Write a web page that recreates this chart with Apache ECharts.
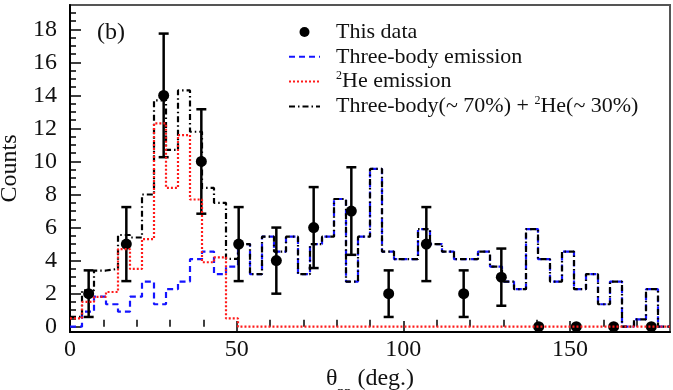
<!DOCTYPE html>
<html>
<head>
<meta charset="utf-8">
<script src="https://cdn.jsdelivr.net/npm/echarts@6/dist/echarts.min.js"></script>
<style>
  html, body { margin: 0; padding: 0; background: #fff; }
  #chart { width: 673px; height: 390px; }
</style>
</head>
<body>
<div id="chart"></div>
<script>
// histogram bins: 50 bins of 3.6 deg between 0 and 180
const binWidth = 3.6;
const threeBody = [0, 0.91, 1.82, 1.36, 0.91, 1.82, 2.73, 1.36, 2.27, 2.73,
  4.09, 4.55, 3.18, 3.64, 5.0, 3.18, 5.45, 4.55, 5.45, 3.18,
  5.0, 5.45, 7.73, 2.73, 5.45, 9.55, 4.55, 4.09, 4.09, 5.91,
  5.0, 4.55, 4.09, 4.09, 4.55, 3.64, 2.73, 2.27, 5.91, 4.09,
  2.73, 4.55, 2.27, 3.18, 1.36, 2.73, 0, 0.45, 2.27, 0];
const he2 = [0.5, 1.5, 1.8, 2.1, 4.7, 3.5, 5.3, 12.3, 8.4, 11.6,
  7.7, 3.9, 4.2, 0.5, 0, 0, 0, 0, 0, 0,
  0, 0, 0, 0, 0, 0, 0, 0, 0, 0,
  0, 0, 0, 0, 0, 0, 0, 0, 0, 0,
  0, 0, 0, 0, 0, 0, 0, 0, 0, 0];
const combined = [0.6, 2.2, 3.4, 3.5, 5.55, 5.4, 8.0, 13.7, 10.7, 14.3,
  11.8, 8.4, 7.5, 4.1, 5.0, 3.18, 5.45, 4.55, 5.45, 3.18,
  5.0, 5.45, 7.73, 2.73, 5.45, 9.55, 4.55, 4.09, 4.09, 5.91,
  5.0, 4.55, 4.09, 4.09, 4.55, 3.64, 2.73, 2.27, 5.91, 4.09,
  2.73, 4.55, 2.27, 3.18, 1.36, 2.73, 0, 0.45, 2.27, 0];

// measured points
const dataAngle = [5.6, 16.9, 28.1, 39.4, 50.6, 61.9, 73.1, 84.4, 95.6, 106.9, 118.1, 129.4, 140.6, 151.9, 163.1, 174.4];
const dataCounts = [2, 5, 14, 10, 5, 4, 6, 7, 2, 5, 2, 3, 0, 0, 0, 0];
const dataErr = [1.41, 2.24, 3.74, 3.16, 2.24, 2.0, 2.45, 2.65, 1.41, 2.24, 1.41, 1.73, 0, 0, 0, 0];

const xTicks = [0, 50, 100, 150];
const yTicks = [0, 2, 4, 6, 8, 10, 12, 14, 16, 18];

const xMinor = [];
for (let v = 10; v < 180; v += 10) if (v % 50) xMinor.push(v);
const yMinor = [];
for (let v = 0.5; v < 19.5; v += 0.5) if (v % 2) yMinor.push(v);

const FONT = "Liberation Serif";

function steps(vals) {
  const pts = vals.map((v, i) => [+(i * binWidth).toFixed(2), v]);
  pts.push([180, vals[vals.length - 1]]);
  return pts;
}

const chart = echarts.init(document.getElementById("chart"));

const baseX = {
  type: "value", min: 0, max: 180, position: "bottom",
  splitLine: { show: false },
};
const baseY = {
  type: "value", min: -0.32, max: 19.47, position: "left",
  splitLine: { show: false },
};
const noDot = { opacity: 0 };

chart.setOption({
  animation: false,
  grid: {
    left: 70, right: 3, top: 5, bottom: 58,
    show: true, borderColor: "#555", borderWidth: 2,
    outerBoundsMode: "none",
  },
  legend: {
    data: [
      { name: "This data", itemStyle: { color: "#000", opacity: 1 } },
      { name: "Three-body emission", itemStyle: noDot },
      { name: "He emission", itemStyle: noDot },
      { name: "Three-body(~ 70%) + He(~ 30%)", itemStyle: noDot },
    ],
    orient: "vertical",
    left: 283, top: 15,
    itemWidth: 31, itemHeight: 10, itemGap: 0.8,
    textStyle: {
      fontFamily: FONT, fontSize: 22, color: "#111", lineHeight: 24,
      padding: [0, 0, 0, 11],
      rich: { sup: { fontFamily: FONT, fontSize: 12, verticalAlign: "top", lineHeight: 24 } },
    },
    formatter: (name) => name.replace(/He/g, "{sup|2}He"),
  },
  xAxis: [
    Object.assign({}, baseX, {
      axisLine: { show: true, onZero: false, lineStyle: { color: "#000", width: 2 } },
      axisTick: { show: true, inside: true, length: 11, customValues: xTicks, lineStyle: { color: "#000", width: 1.5 } },
      axisLabel: { customValues: xTicks, fontFamily: FONT, fontSize: 24, color: "#111", margin: 6 },
      name: "θ{sub|pp} (deg.)",
      nameLocation: "middle", nameGap: 35,
      nameTextStyle: {
        fontFamily: FONT, fontSize: 24, color: "#111",
        rich: { sub: { fontFamily: FONT, fontSize: 14, verticalAlign: "bottom", padding: [0, 0, -8, 0] } },
      },
    }),
    Object.assign({}, baseX, {
      axisLine: { show: false },
      axisTick: { show: true, inside: true, length: 7, customValues: xMinor, lineStyle: { color: "#000", width: 1.5 } },
      axisLabel: { show: false },
    }),
  ],
  yAxis: [
    Object.assign({}, baseY, {
      axisLine: { show: true, onZero: false, lineStyle: { color: "#000", width: 2 } },
      axisTick: { show: true, inside: true, length: 11, customValues: yTicks, lineStyle: { color: "#000", width: 1.5 } },
      axisLabel: { customValues: yTicks, fontFamily: FONT, fontSize: 24, color: "#111", margin: 13 },
      name: "Counts", nameLocation: "middle", nameRotate: 90, nameGap: 44,
      nameTextStyle: { fontFamily: FONT, fontSize: 24, color: "#111" },
    }),
    Object.assign({}, baseY, {
      axisLine: { show: false },
      axisTick: { show: true, inside: true, length: 6, customValues: yMinor, lineStyle: { color: "#000", width: 1.5 } },
      axisLabel: { show: false },
    }),
  ],
  graphic: [
    { type: "text", left: 97, top: 21, style: { text: "(b)", font: "24px " + FONT, fill: "#111" } },
  ],
  series: [
    {
      name: "Three-body emission", type: "line", step: "end", symbol: "none", z: 2,
      data: steps(threeBody),
      lineStyle: { color: "#1414ff", width: 2.2, type: [6, 4] },
      itemStyle: { color: "#1414ff" },
    },
    {
      name: "Three-body(~ 70%) + He(~ 30%)", type: "line", step: "end", symbol: "none", z: 3,
      data: steps(combined),
      lineStyle: { color: "#000", width: 2.2, type: [6, 3, 1.5, 3] },
      itemStyle: { color: "#000" },
    },
    {
      name: "errors", type: "custom", z: 4,
      data: dataAngle.map((x, i) => [x, dataCounts[i], dataErr[i]]),
      renderItem: (params, api) => {
        const x = api.value(0), y = api.value(1), e = api.value(2);
        if (!(e > 0)) return null;
        const t = api.coord([x, y + e]);
        const b = api.coord([x, y - e]);
        const cap = 5;
        const st = { stroke: "#000", lineWidth: 2.5 };
        return {
          type: "group",
          children: [
            { type: "line", shape: { x1: t[0], y1: t[1], x2: b[0], y2: b[1] }, style: st },
            { type: "line", shape: { x1: t[0] - cap, y1: t[1], x2: t[0] + cap, y2: t[1] }, style: st },
            { type: "line", shape: { x1: b[0] - cap, y1: b[1], x2: b[0] + cap, y2: b[1] }, style: st },
          ],
        };
      },
    },
    {
      name: "This data", type: "scatter", z: 4, symbol: "circle", symbolSize: 11,
      data: dataAngle.map((x, i) => [x, dataCounts[i]]),
      itemStyle: { color: "#000", opacity: 1 },
    },
    {
      name: "He emission", type: "line", step: "end", symbol: "none", z: 5,
      data: steps(he2),
      lineStyle: { color: "#ff1a1a", width: 2.2, type: [2, 2] },
      itemStyle: { color: "#ff1a1a" },
    },
  ],
});
</script>
</body>
</html>
